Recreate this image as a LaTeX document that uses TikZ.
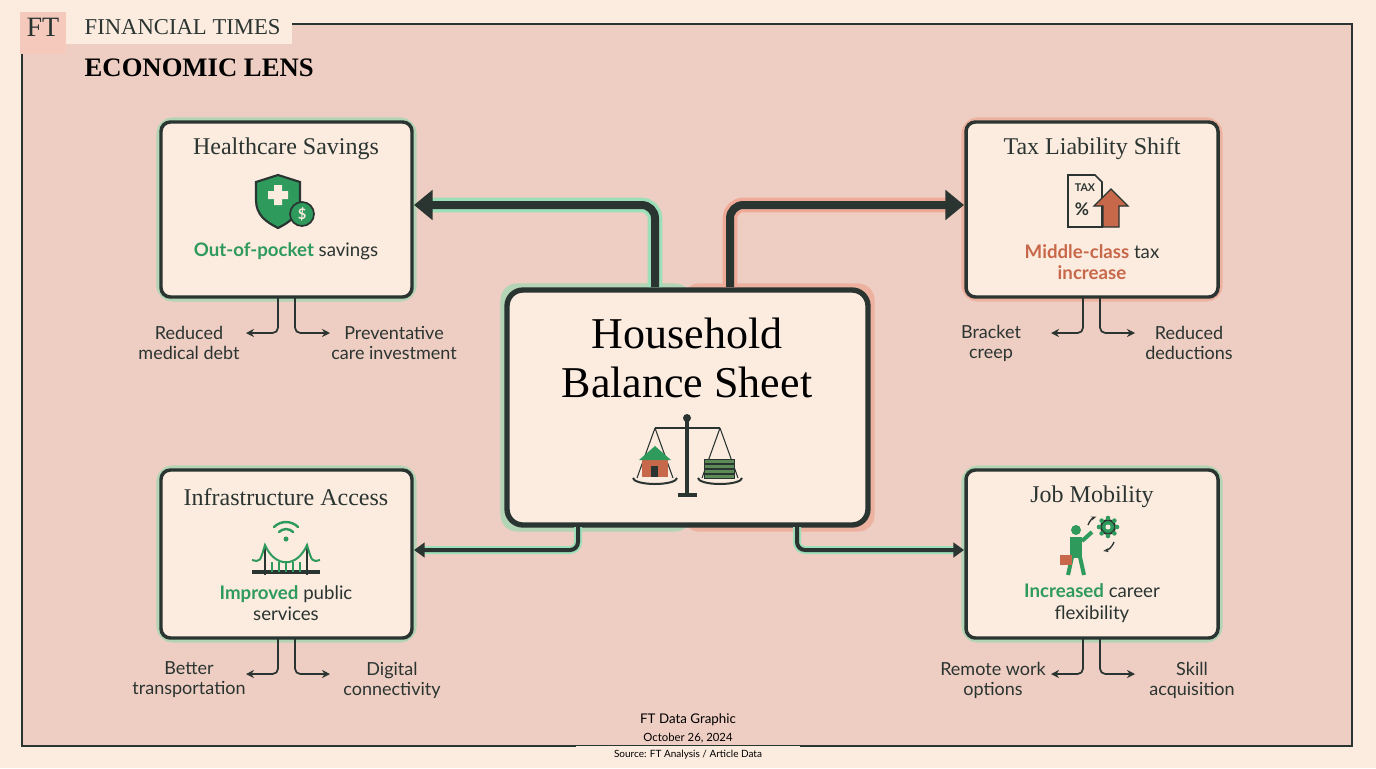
\documentclass[tikz,border=0pt]{standalone}
\usepackage{fontspec}
\setmainfont{Liberation Serif}
\newfontfamily\bodyfont{Lato}
\usetikzlibrary{calc,arrows.meta,positioning}
\definecolor{cream}{HTML}{FCEBDF}
\definecolor{pinkbg}{HTML}{EECDC2}
\definecolor{ink}{HTML}{2A3431}
\definecolor{ftgreen}{HTML}{2E9A5C}
\definecolor{ftorange}{HTML}{C8684A}
\definecolor{glowgreen}{HTML}{5CC98A}
\definecolor{gloworange}{HTML}{E8876A}
\begin{document}
\begin{tikzpicture}[x=0.75pt,y=-0.75pt]

\tikzset{card/.style={draw=ink,line width=2.6pt,fill=cream,rounded corners=7pt},
glowg/.style={draw=glowgreen!70,line width=7pt,rounded corners=9pt,opacity=.6},
glowo/.style={draw=gloworange!80,line width=7pt,rounded corners=9pt,opacity=.6},
cardtitle/.style={font=\fontsize{18}{20}\selectfont,text=ink},
cardtext/.style={font=\bodyfont\fontsize{14}{16}\selectfont,text=ink,align=center},
sublabel/.style={font=\bodyfont\fontsize{13.5}{15}\selectfont,text=ink,align=center},
bigarrow/.style={draw=ink,line width=6pt,rounded corners=10pt,-{Triangle[length=14pt,width=22pt]}},
smallarrow/.style={draw=ink,line width=3pt,rounded corners=6pt,-{Triangle[length=8pt,width=11pt]}},
branch/.style={draw=ink,line width=1.3pt,rounded corners=4pt,-{Stealth[length=6pt,width=6pt]}}}

% Background and frame
\fill[cream] (0,0) rectangle (1376,768);
\useasboundingbox (0,0) rectangle (1376,768);
\fill[pinkbg] (22,24) rectangle (1352,746);
\draw[ink,line width=1.2pt] (22,24) rectangle (1352,746);
\fill[cream] (20,12) rectangle (292,44);
\fill[gloworange!45] (20,12) rectangle (66,54);
\node[font=\fontsize{21}{22}\selectfont,text=ink] (ftlogo) at (43,27) {FT};
\node[font=\fontsize{17}{18}\selectfont,text=ink,anchor=west] (masthead) at (80,27) {FINANCIAL TIMES};
\node[font=\bfseries\fontsize{20}{22}\selectfont,text=black,anchor=west] (lens) at (80,68) {ECONOMIC LENS};
\fill[cream] (576,746) rectangle (800,768);

% Central node
\draw[glowg] (505,288) rectangle (687,527);
\draw[glowo] (687,288) rectangle (870,527);
\draw[card,line width=4pt,rounded corners=12pt] (507,290) rectangle (868,525);
\node[font=\fontsize{33}{37}\selectfont,text=black,align=center] (title) at (687,358) {Household\\Balance Sheet};

% scale icon
\fill[ink] (678,493) rectangle (697,497);
\fill[ink] (685,420) rectangle (689,493);
\draw[ink,line width=1.5pt] (655,428) -- (720,428);
\fill[ink] (687,418) circle (4);
\draw[ink,line width=.8pt] (655,428) -- (637,478) (655,428) -- (673,478) (720,428) -- (702,478) (720,428) -- (738,478);
\draw[ink,line width=1.5pt] (633,478) arc (180:0:22 and 6);
\draw[ink,line width=1.5pt] (698,478) arc (180:0:22 and 6);
\fill[ftorange] (642,458) rectangle (668,477);
\fill[ftgreen] (639,460) -- (655,446) -- (671,460) -- cycle;
\fill[ink] (651,466) rectangle (658,477);
\foreach \k in {0,1,2,3} \draw[ink,fill=ftgreen!70!ftorange,line width=.6pt] (704,474-5*\k) rectangle (734,478-5*\k);

% Cards
\draw[glowg] (161,122) rectangle (412,297);
\draw[card] (161,122) rectangle (412,297);
\draw[glowo] (966,122) rectangle (1218,297);
\draw[card] (966,122) rectangle (1218,297);
\draw[glowg] (161,470) rectangle (412,638);
\draw[card] (161,470) rectangle (412,638);
\draw[glowg] (966,470) rectangle (1218,638);
\draw[card] (966,470) rectangle (1218,638);

\node[cardtitle] (healthT) at (286,149) {Healthcare Savings};
\node[cardtext] (healthX) at (286,251) {\textcolor{ftgreen}{\bfseries Out-of-pocket} savings};
\node[cardtitle] (taxT) at (1092,149) {Tax Liability Shift};
\node[cardtext] (taxX) at (1092,262) {\textcolor{ftorange}{\bfseries Middle-class} tax\\\textcolor{ftorange}{\bfseries increase}};
\node[cardtitle] (infraT) at (286,497) {Infrastructure Access};
\node[cardtext] (infraX) at (286,603) {\textcolor{ftgreen}{\bfseries Improved} public\\services};
\node[cardtitle] (jobT) at (1092,497) {Job Mobility};
\node[cardtext] (jobX) at (1092,603) {\textcolor{ftgreen}{\bfseries Increased} career\\flexibility};

% shield icon
\draw[ink,line width=1.6pt,fill=ftgreen] (278,175) -- (300,182) -- (300,200) .. controls (300,215) and (290,222) .. (278,228) .. controls (266,222) and (256,215) .. (256,200) -- (256,182) -- cycle;
\fill[cream] (274,185) rectangle (282,205) (268,191) rectangle (288,199);
\draw[ink,line width=1.3pt,fill=ftgreen] (302,214) circle (12);
\node[font=\bodyfont\bfseries\fontsize{11}{11}\selectfont,text=cream] (coin) at (302,214) {\$};

% tax icon
\draw[ink,line width=1.2pt,fill=cream] (1068,175) -- (1095,175) -- (1102,182) -- (1102,227) -- (1068,227) -- cycle;
\node[font=\bodyfont\bfseries\fontsize{8}{8}\selectfont,text=ink] (taxlbl) at (1085,188) {TAX};
\node[font=\bodyfont\bfseries\fontsize{13}{13}\selectfont,text=ink] (pct) at (1082,209) {\%};
\draw[ink,line width=1pt,fill=ftorange] (1103,227) -- (1103,206) -- (1094,206) -- (1111,189) -- (1128,206) -- (1119,206) -- (1119,227) -- cycle;

% bridge icon
\draw[ink,line width=2.5pt] (252,572) -- (320,572);
\draw[ink,line width=2pt] (265,545) -- (265,575) (307,545) -- (307,575);
\draw[ftgreen,line width=1.5pt] (252,560) .. controls (260,562) .. (265,545) .. controls (275,568) and (297,568) .. (307,545) .. controls (312,562) .. (320,560);
\foreach \xx in {272,279,286,293,300} \draw[ftgreen,line width=.8pt] (\xx,562) -- (\xx,572);
\draw[ftgreen,line width=1.8pt,line cap=round] (279,532) arc (225:315:10) (274,527) arc (225:315:17);
\fill[ftgreen] (286,539) circle (2.5);

% person icon
\fill[ftgreen] (1076,530) circle (5);
\fill[ftgreen] (1070,537) rectangle (1082,558);
\draw[ftgreen,line width=3pt] (1072,557) -- (1068,575) (1080,557) -- (1084,575) (1082,541) -- (1092,532);
\fill[ftorange] (1060,555) rectangle (1072,565);
\draw[ink,line width=1.4pt,fill=ftgreen] (1108,527) circle (7);
\foreach \a in {0,45,...,315} \fill[ftgreen] ($(1108,527)+(\a:9)$) circle (2.3);
\fill[cream] (1108,527) circle (2.5);
\draw[ink,line width=1pt,-{Stealth[length=4pt]}] (1088,525) arc (200:250:14);
\draw[ink,line width=1pt,-{Stealth[length=4pt]}] (1114,542) arc (20:80:14);

% Main connectors
\draw[draw=glowgreen!60,line width=11pt,rounded corners=10pt] (655,287) |- (425,205);
\draw[bigarrow] (655,287) |- (414,205);
\draw[draw=gloworange!70,line width=11pt,rounded corners=10pt] (730,287) |- (952,205);
\draw[bigarrow] (730,287) |- (964,205);
\draw[draw=glowgreen!60,line width=6pt,rounded corners=6pt] (578,527) |- (422,550);
\draw[smallarrow] (578,527) |- (414,550);
\draw[draw=glowgreen!60,line width=6pt,rounded corners=6pt] (797,527) |- (955,550);
\draw[smallarrow] (797,527) |- (964,550);

% Branches
\foreach \cx/\cy in {278/297,1083/297,278/638,1083/638}{
  \draw[branch] (\cx,\cy) |- ($(\cx,\cy)+(-32,36)$);
  \draw[branch] ($(\cx,\cy)+(17,0)$) |- ($(\cx,\cy)+(52,36)$);
}
\node[sublabel] (hsA) at (189,343) {Reduced\\medical debt};
\node[sublabel] (hsB) at (394,343) {Preventative\\care investment};
\node[sublabel] (tlA) at (991,343) {Bracket\\creep};
\node[sublabel] (tlB) at (1189,343) {Reduced\\deductions};
\node[sublabel] (iaA) at (189,680) {Better\\transportation};
\node[sublabel] (iaB) at (392,680) {Digital\\connectivity};
\node[sublabel] (jmA) at (993,680) {Remote work\\options};
\node[sublabel] (jmB) at (1192,680) {Skill\\acquisition};

% Footer
\node[font=\bodyfont\fontsize{10}{11}\selectfont,text=black] (foot1) at (688,720) {FT Data Graphic};
\node[font=\bodyfont\fontsize{8.5}{9}\selectfont,text=black] (foot2) at (688,738) {October 26, 2024};
\node[font=\bodyfont\fontsize{7.5}{8}\selectfont,text=black] (foot3) at (688,755) {Source: FT Analysis / Article Data};

\end{tikzpicture}
\end{document}
